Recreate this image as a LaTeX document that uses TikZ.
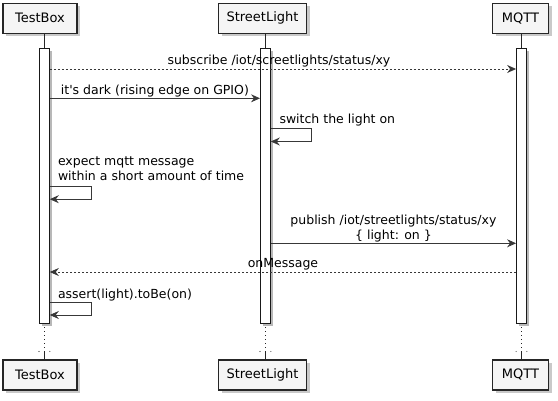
\documentclass[tikz,border=0pt]{standalone}
\usepackage{fontspec}
\setmainfont{DejaVu Sans}[Ligatures=TeXOff]
\usetikzlibrary{arrows.meta,shadows}
\begin{document}
\begin{tikzpicture}[x=1pt,y=-1pt,
  part/.style={draw=black!85, line width=1.2pt, fill=black!4, minimum height=30pt, inner sep=0pt,
    font=\fontsize{13}{15}\selectfont,
    drop shadow={shadow xshift=3pt, shadow yshift=-3pt, fill=black!30, opacity=0.7}},
  bar/.style={draw=black!90, line width=0.8pt, fill=white, minimum width=10pt, minimum height=275pt, inner sep=0pt,
    drop shadow={shadow xshift=2.5pt, shadow yshift=-2.5pt, fill=black!35, opacity=0.8}},
  msg/.style={draw=black!78, line width=0.9pt, -{Stealth[length=9pt,width=8pt,inset=3pt]}},
  rep/.style={msg, dash pattern=on 2pt off 2pt},
  lbl/.style={font=\fontsize{12.5}{15}\selectfont, inner sep=0pt, anchor=base},
  life/.style={draw=black!85, line width=0.8pt},
  lifedot/.style={draw=black!85, line width=0.8pt, dash pattern=on 0.8pt off 3.2pt},
  dotmark/.style={fill=black!85}
]
\useasboundingbox (0,0) rectangle (558,401);

% participants
\node[part, minimum width=74pt] (tbtop) at (40,18.3) {TestBox};
\node[part, minimum width=88pt] (sltop) at (262.5,18.3) {StreetLight};
\node[part, minimum width=56pt] (mqtop) at (520.5,18.3) {MQTT};
\node[part, minimum width=74pt] (tbbot) at (40,375) {TestBox};
\node[part, minimum width=88pt] (slbot) at (262.5,375) {StreetLight};
\node[part, minimum width=56pt] (mqbot) at (520.5,375) {MQTT};

% activation bars
\node[bar] (tbar) at (44.4,185.6) {};
\node[bar] (sbar) at (265.4,185.6) {};
\node[bar] (mbar) at (521.5,185.6) {};

% lifelines top
\draw[life] (tbtop.south -| tbar.north) -- (tbar.north);
\draw[life] (sltop.south -| sbar.north) -- (sbar.north);
\draw[life] (mqtop.south -| mbar.north) -- (mbar.north);

% lifelines bottom
\foreach \b/\p in {tbar/tbbot, sbar/slbot, mbar/mqbot}{
  \coordinate (\b d) at (\b.south |- 0,351.5);
  \draw[lifedot] ([yshift=-4pt]\b.south) -- (\b d);
  \draw[life] (\b d) -- (\p.north -| \b.south);
  \fill[dotmark] (\b.south west |- \b d) circle (0.55pt);
  \fill[dotmark] (\b.south east |- \b d) circle (0.55pt);
}

% messages
\draw[rep] (tbar.east |- 0,69) -- node[lbl, yshift=4pt, xshift=-4pt] {subscribe /iot/screetlights/status/xy} (mbar.west |- 0,69);

\draw[msg] (tbar.east |- 0,98.3) -- node[lbl, yshift=4pt] {it's dark (rising edge on GPIO)} (sbar.west |- 0,98.3);

\node[lbl, anchor=base west] (l3) at ([xshift=8.5pt]sbar.east |- 0,124) {switch the light on};
\draw[msg] (sbar.east |- 0,128.3) -- ++(41,0) -- ++(0,13.2) -- (sbar.east |- 0,141.5);

\node[lbl, anchor=base west, align=left] (l4) at ([xshift=8pt]tbar.east |- 0,181) {expect mqtt message\\within a short amount of time};
\draw[msg] (tbar.east |- 0,186.7) -- ++(41.5,0) -- ++(0,12.5) -- (tbar.east |- 0,199.2);

\draw[msg] (sbar.east |- 0,243.3) -- node[lbl, yshift=4pt, align=center] {publish /iot/streetlights/status/xy\\\{ light: on \}} (mbar.west |- 0,243.3);

\draw[rep] (mbar.west |- 0,272) -- node[lbl, yshift=4.5pt] {onMessage} (tbar.east |- 0,272);

\node[lbl, anchor=base west] (l7) at ([xshift=8pt]tbar.east |- 0,298.5) {assert(light).toBe(on)};
\draw[msg] (tbar.east |- 0,302.3) -- ++(41.5,0) -- ++(0,12.7) -- (tbar.east |- 0,315);
\end{tikzpicture}
\end{document}
